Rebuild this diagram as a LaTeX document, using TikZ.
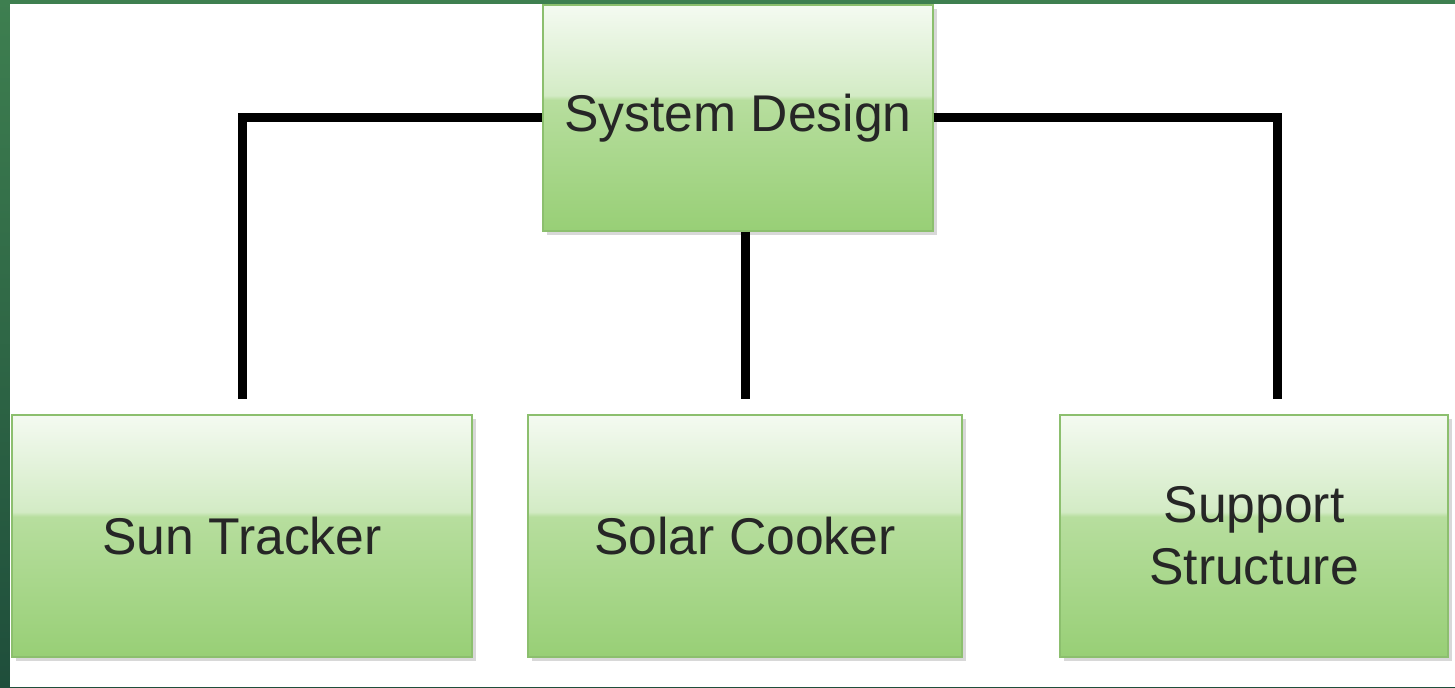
\documentclass[tikz,border=0pt]{standalone}
\usepackage{fontspec}
\setmainfont{Liberation Sans}
\usetikzlibrary{shadows}
\definecolor{frame}{HTML}{3E7F50}
\definecolor{framedark}{HTML}{1F4E3B}
\definecolor{gtop}{HTML}{F4FAF1}
\definecolor{gmidhi}{HTML}{D3EBC5}
\definecolor{gmidlo}{HTML}{B7DE9E}
\definecolor{gbot}{HTML}{98CF76}
\definecolor{boxedge}{HTML}{8CBF6E}
\pgfdeclareverticalshading{gloss}{100bp}{color(0bp)=(gbot); color(25bp)=(gbot); color(54bp)=(gmidlo); color(55bp)=(gmidhi); color(75bp)=(gtop); color(100bp)=(gtop)}
\tikzstyle{block} = [rectangle, minimum height=2.42cm, inner sep=0pt, align=center, text=black!85, font=\fontsize{14.7}{17.6}\selectfont, draw=boxedge, line width=0.4pt, shade, shading=gloss, drop shadow={shadow xshift=0.04cm, shadow yshift=-0.04cm, opacity=0.3}]
\tikzstyle{link} = [line width=0.09cm, shorten >=0.15cm]
\begin{document}
\begin{tikzpicture}[node distance=4.18cm]
\useasboundingbox (0,0) rectangle (14.55,6.87);

% Background
\fill[top color=frame, bottom color=framedark] (0,0) rectangle (14.55,6.87);
\fill[white] (0.10,0) rectangle (14.55,6.83);

% Nodes
\node (design) [block, minimum width=3.9cm, minimum height=2.26cm] at (7.38,5.69) {System Design};
\node (cooker) [block, minimum width=4.34cm, below of=design, xshift=0.07cm] {Solar Cooker};
\node (tracker) [block, minimum width=4.6cm, left of=cooker, xshift=-0.85cm] {Sun Tracker};
\node (support) [block, minimum width=3.88cm, right of=cooker, xshift=0.91cm] {Support\\Structure};

% Lines
\draw [link] (design.west) -| (tracker.north);
\draw [link] (cooker.north |- design.south) -- (cooker.north);
\draw [link] (design.east) -| ([xshift=0.23cm]support.north);

\end{tikzpicture}
\end{document}
